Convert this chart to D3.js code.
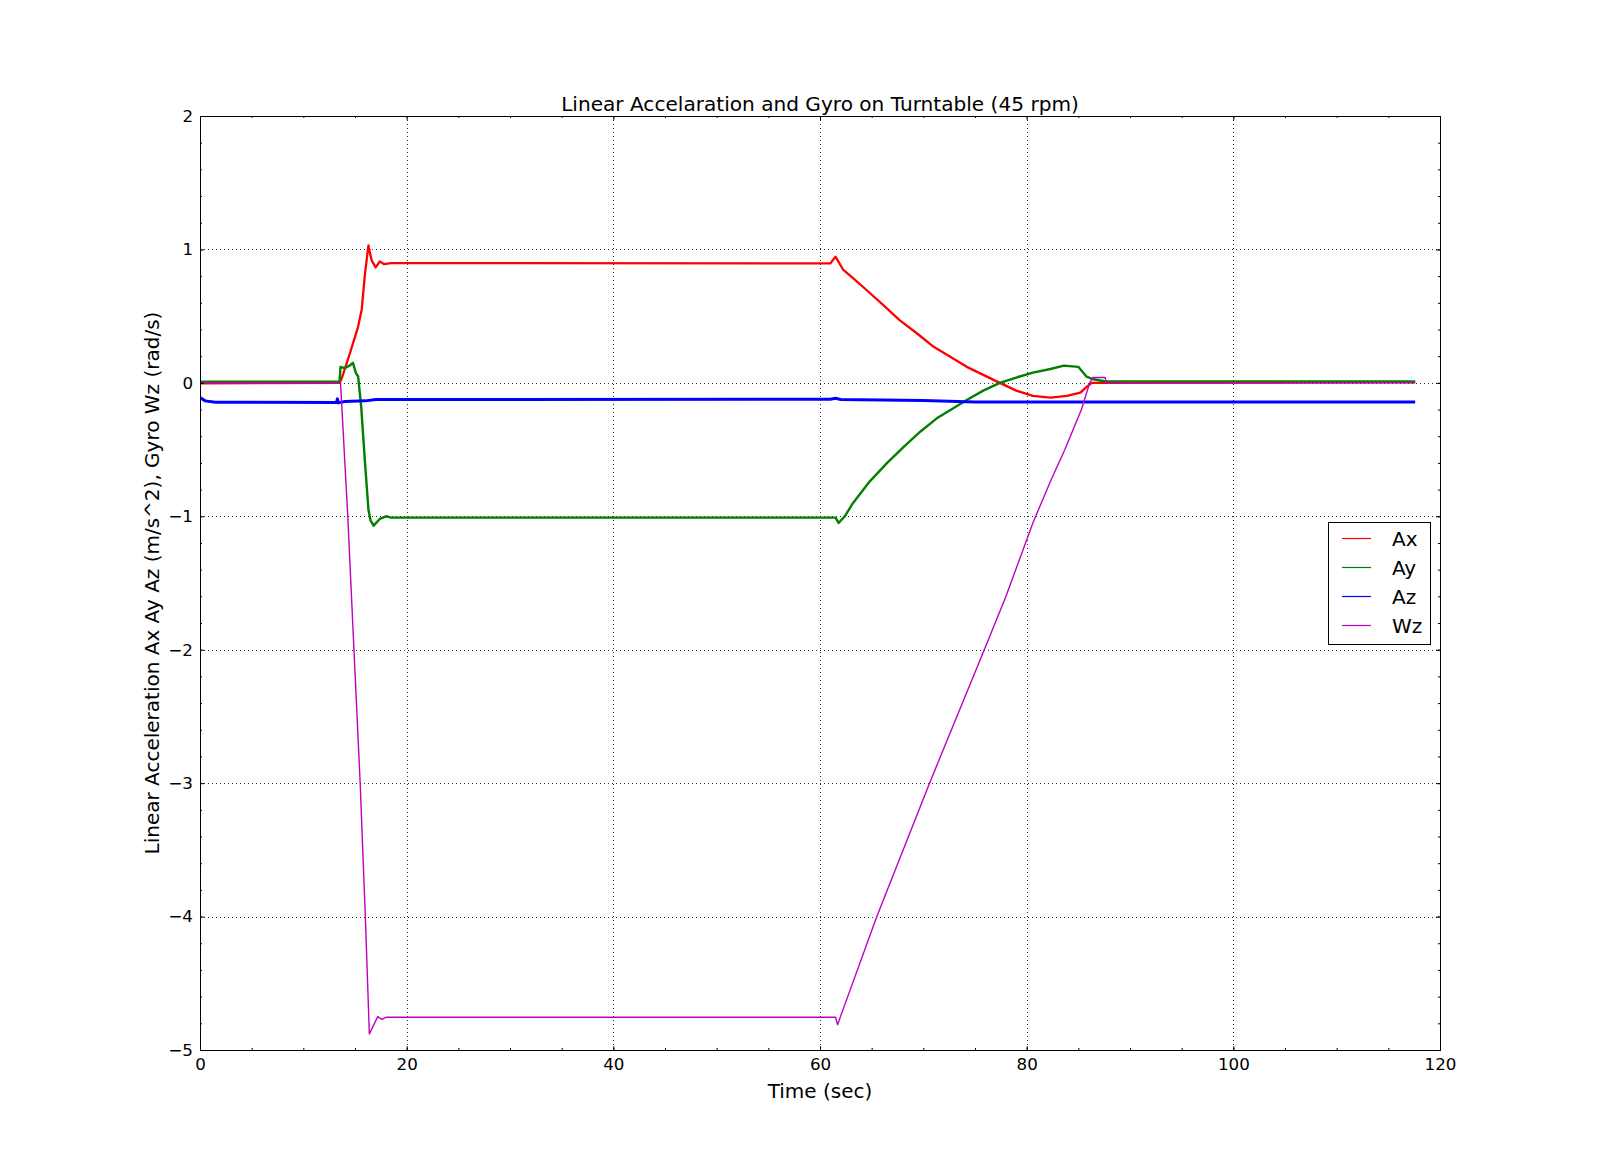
<!DOCTYPE html>
<html>
<head>
<meta charset="utf-8">
<script src="https://cdn.jsdelivr.net/npm/d3@7"></script>
<style>
html,body{margin:0;padding:0;background:#fff;}
svg{display:block;font-family:"DejaVu Sans",sans-serif;}
</style>
</head>
<body>
<svg id="chart" width="1600" height="1167"></svg>
<script>
// ---- data ----
const seriesNames = ["Ax", "Ay", "Az", "Wz"];
const seriesColors = ["#ff0000", "#008000", "#0000ff", "#bf00bf"];
const xTickValues = [0, 20, 40, 60, 80, 100, 120];
const yTickValues = [-5, -4, -3, -2, -1, 0, 1, 2];

const axTime = [0, 13.5, 13.7, 14.5, 15.3, 15.65, 15.97, 16.3, 16.6, 17.0, 17.4, 17.8, 18.5, 61.0, 61.5, 62.26, 63.2, 64.5, 66.1, 67.7, 69.4, 71.0, 72.6, 74.2, 75.8, 77.4, 79.0, 80.6, 82.3, 83.9, 85.2, 85.8, 86.3, 117.6];
const axVals = [-0.003, 0.0, 0.03, 0.22, 0.42, 0.55, 0.82, 1.03, 0.92, 0.866, 0.91, 0.89, 0.898, 0.895, 0.946, 0.846, 0.784, 0.696, 0.584, 0.47, 0.37, 0.27, 0.196, 0.12, 0.06, 0.0, -0.058, -0.098, -0.11, -0.098, -0.073, -0.03, 0.0, 0.005];

const ayTime = [0, 13.5, 13.6, 14.0, 14.5, 14.8, 15.1, 15.3, 15.6, 15.97, 16.3, 16.5, 16.8, 17.4, 18.0, 18.5, 61.5, 61.8, 62.4, 63.2, 64.8, 66.5, 68.1, 69.7, 71.3, 72.9, 74.2, 75.8, 77.4, 79.0, 80.6, 82.3, 83.6, 85.0, 85.8, 86.45, 87.5, 117.6];
const ayVals = [0.008, 0.01, 0.12, 0.11, 0.13, 0.15, 0.07, 0.05, -0.18, -0.6, -0.95, -1.03, -1.07, -1.02, -1.0, -1.01, -1.01, -1.05, -1.0, -0.9, -0.74, -0.6, -0.48, -0.366, -0.266, -0.19, -0.128, -0.058, 0.0, 0.04, 0.077, 0.104, 0.129, 0.12, 0.046, 0.027, 0.012, 0.01];

const azTime = [0, 0.5, 1.5, 13.2, 13.3, 13.4, 14.0, 16.0, 17.0, 61.0, 61.5, 62.0, 70.0, 75.0, 117.6];
const azVals = [-0.11, -0.135, -0.145, -0.148, -0.12, -0.15, -0.14, -0.135, -0.125, -0.123, -0.115, -0.125, -0.133, -0.143, -0.143];

const wzTime = [0, 13.6, 14.3, 14.9, 15.5, 16.0, 16.39, 17.2, 17.6, 18.0, 61.5, 61.7, 62.4, 65.5, 70.6, 75.9, 78.0, 80.6, 82.4, 83.7, 85.3, 86.1, 86.4, 87.6, 87.7, 117.6];
const wzVals = [0.0, 0.0, -1.0, -2.0, -3.0, -4.0, -4.88, -4.75, -4.77, -4.755, -4.755, -4.81, -4.66, -4.0, -3.0, -2.0, -1.6, -1.05, -0.72, -0.5, -0.2, 0.0, 0.04, 0.04, 0.0, 0.0];

const seriesTimes = [axTime, ayTime, azTime, wzTime];
const seriesValues = [axVals, ayVals, azVals, wzVals];
const seriesWidths = [2.3, 2.4, 3.0, 1.4];

// ---- layout ----
const svg = d3.select("#chart");
const L = 200, R = 1440, T = 116, B = 1050;
const x = d3.scaleLinear().domain([0, 120]).range([L, R]);
const y = d3.scaleLinear().domain([-5, 2]).range([B, T]);
const fmt = d => (d < 0 ? "\u2212" + Math.abs(d) : String(d));

svg.append("rect").attr("width", 1600).attr("height", 1167).attr("fill", "#fff");

// grid
const grid = svg.append("g");
xTickValues.slice(1, -1).forEach(v => {
  grid.append("line").attr("x1", Math.round(x(v)) + 0.5).attr("x2", Math.round(x(v)) + 0.5)
    .attr("y1", T).attr("y2", B).attr("stroke", "#000").attr("stroke-width", 1)
    .attr("stroke-dasharray", "1,3").attr("opacity", 0.8);
});
yTickValues.slice(1, -1).forEach(v => {
  grid.append("line").attr("y1", Math.round(y(v)) + 0.5).attr("y2", Math.round(y(v)) + 0.5)
    .attr("x1", L).attr("x2", R).attr("stroke", "#000").attr("stroke-width", 1)
    .attr("stroke-dasharray", "1,3").attr("opacity", 0.8);
});

// lines
svg.append("clipPath").attr("id", "clip").append("rect")
  .attr("x", L).attr("y", T).attr("width", R - L).attr("height", B - T);
const lines = svg.append("g").attr("clip-path", "url(#clip)");
seriesNames.forEach((name, i) => {
  const pts = seriesTimes[i].map((t, j) => [t, seriesValues[i][j]]);
  lines.append("path").datum(pts)
    .attr("fill", "none").attr("stroke", seriesColors[i])
    .attr("stroke-width", seriesWidths[i]).attr("stroke-linejoin", "round")
    .attr("d", d3.line().x(d => x(d[0])).y(d => y(d[1])));
});

// axes (ticks inward, all four sides)
const xMinor = d3.range(0, 121, 5);
const yMinor = d3.range(-5, 2.001, 0.2).map(v => +v.toFixed(1));
function addAxis(axisFn, scale, tr, major, minor, labels) {
  const gMin = svg.append("g").attr("transform", tr)
    .call(axisFn(scale).tickValues(minor).tickSize(-2).tickFormat(""));
  gMin.select(".domain").remove();
  const g = svg.append("g").attr("transform", tr)
    .call(axisFn(scale).tickValues(major).tickSize(-4).tickPadding(10)
      .tickFormat(labels ? fmt : ""));
  g.select(".domain").remove();
  g.selectAll("line").attr("stroke", "#000");
  gMin.selectAll("line").attr("stroke", "#000");
  g.selectAll("text").attr("font-size", 16.7).attr("fill", "#000")
    .attr("font-family", "DejaVu Sans, sans-serif");
  return g;
}
const gx = addAxis(d3.axisBottom, x, `translate(0,${B})`, xTickValues, xMinor, true);
gx.selectAll("text").attr("dy", "0.71em").attr("y", 8);
addAxis(d3.axisTop, x, `translate(0,${T})`, xTickValues, xMinor, false);
const gy = addAxis(d3.axisLeft, y, `translate(${L},0)`, yTickValues, yMinor, true);
gy.selectAll("text").attr("x", -7);
addAxis(d3.axisRight, y, `translate(${R},0)`, yTickValues, yMinor, false);

svg.append("rect").attr("x", L + 0.5).attr("y", T + 0.5).attr("width", R - L).attr("height", B - T)
  .attr("fill", "none").attr("stroke", "#000").attr("stroke-width", 1);

// titles
svg.append("text").attr("x", (L + R) / 2).attr("y", 111).attr("text-anchor", "middle")
  .attr("font-size", 20.1).text("Linear Accelaration and Gyro on Turntable (45 rpm)");
svg.append("text").attr("x", (L + R) / 2).attr("y", 1098).attr("text-anchor", "middle")
  .attr("font-size", 20).text("Time (sec)");
svg.append("text").attr("transform", `translate(159,${(T + B) / 2}) rotate(-90)`)
  .attr("text-anchor", "middle").attr("font-size", 20)
  .text("Linear Acceleration Ax Ay Az (m/s^2), Gyro Wz (rad/s)");

// legend
const lg = svg.append("g");
lg.append("rect").attr("x", 1328.5).attr("y", 522.5).attr("width", 102).attr("height", 122)
  .attr("fill", "#fff").attr("stroke", "#000").attr("stroke-width", 1);
seriesNames.forEach((name, i) => {
  const cy = 538.5 + i * 29;
  lg.append("line").attr("x1", 1342).attr("x2", 1371).attr("y1", cy).attr("y2", cy)
    .attr("stroke", seriesColors[i]).attr("stroke-width", 1.2);
  lg.append("text").attr("x", 1392).attr("y", cy).attr("dy", "0.35em")
    .attr("font-size", 20).text(name);
});
</script>
</body>
</html>
